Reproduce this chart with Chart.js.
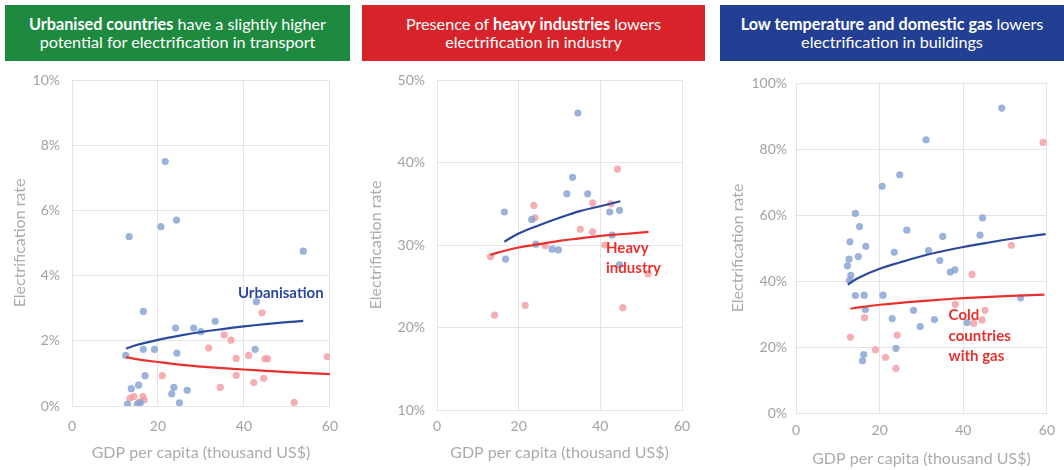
<!doctype html>
<html lang="en">
<head>
<meta charset="utf-8">
<title>Electrification rate vs GDP per capita</title>
<script src="https://cdn.jsdelivr.net/npm/chart.js"></script>
<style>
  body{margin:0;background:#fff;font-family:Lato,"Noto Sans",sans-serif}
  #wrap{position:relative;width:1064px;height:470px;overflow:hidden}
  .box{position:absolute;top:5px;height:56px;color:#fff;font-size:16.2px;line-height:18px;
       display:flex;align-items:center;justify-content:center;text-align:center}
  .box b{font-weight:700}
  .cv{position:absolute;top:0;height:470px}
</style>
</head>
<body>
<div id="wrap">
  <div class="box" style="left:5px;width:345px;background:#1d8a3f">
    <div><b>Urbanised countries</b> have a slightly higher<br>potential for electrification in transport</div></div>
  <div class="box" style="left:362px;width:343px;background:#d8232a">
    <div>Presence of <b>heavy industries</b> lowers<br>electrification in industry</div></div>
  <div class="box" style="left:720px;width:344px;background:#233f93">
    <div><b>Low temperature and domestic gas</b> lowers<br>electrification in buildings</div></div>

  <div class="cv" style="left:0;width:350px"><canvas id="c1" width="350" height="470"></canvas></div>
  <div class="cv" style="left:355px;width:350px"><canvas id="c2" width="350" height="470"></canvas></div>
  <div class="cv" style="left:710px;width:354px"><canvas id="c3" width="354" height="470"></canvas></div>
</div>

<script>
/* ---------- data (x = GDP per capita, thousand US$; y = electrification rate %) ---------- */
const xTicks=[0,20,40,60];

// transport
const transportBlue=[[21.7,7.5],[20.7,5.5],[24.3,5.7],[13.3,5.2],[53.8,4.75],[42.9,3.2],[16.6,2.9],
  [24.1,2.39],[28.3,2.39],[30.0,2.28],[33.3,2.6],[12.5,1.55],[16.6,1.74],[19.2,1.74],[24.4,1.62],
  [42.6,1.74],[17.0,0.93],[13.8,0.53],[15.5,0.64],[23.7,0.57],[23.2,0.37],[26.8,0.48],[25.0,0.1],
  [12.9,0.06],[15.2,0.06],[15.9,0.1]];
const transportRed=[[44.2,2.86],[35.4,2.18],[37.0,2.02],[31.8,1.78],[38.2,1.46],[41.1,1.55],[44.9,1.45],
  [45.5,1.45],[59.4,1.51],[21.0,0.93],[38.2,0.94],[34.5,0.57],[42.3,0.72],[44.6,0.85],[51.7,0.11],
  [13.5,0.24],[14.4,0.29],[16.5,0.29],[16.8,0.19],[15.6,0.11]];
const transportTrendBlue=[[12.6,1.76],[15,1.87],[20,2.03],[25,2.16],[30,2.27],[35,2.36],[40,2.44],[45,2.51],[50,2.57],[53.8,2.61]];
const transportTrendRed=[[12.6,1.5],[15,1.44],[20,1.35],[25,1.27],[30,1.21],[35,1.16],[40,1.12],[45,1.08],[50,1.04],[55,1.01],[60,0.98]];

// industry
const industryBlue=[[34.5,46.0],[33.2,38.2],[31.8,36.2],[36.9,36.2],[16.5,34.0],[23.2,33.1],[42.3,34.0],
  [44.7,34.2],[42.9,31.2],[16.8,28.3],[24.2,30.1],[28.2,29.5],[29.7,29.4],[44.7,27.6]];
const industryRed=[[44.2,39.2],[23.7,34.8],[24.0,33.3],[38.1,35.1],[42.6,35.0],[35.1,31.9],[38.1,31.6],
  [13.1,28.6],[14.1,21.5],[21.6,22.7],[26.5,29.9],[41.1,30.0],[45.5,22.4],[51.7,26.5]];
const industryTrendBlue=[[16.5,30.4],[20,31.4],[25,32.4],[30,33.3],[35,34.1],[40,34.7],[44.9,35.3]];
const industryTrendRed=[[13.1,28.8],[15,29.1],[20,29.7],[25,30.1],[30,30.5],[35,30.8],[40,31.1],[45,31.3],[51.8,31.6]];

// buildings
const buildingsBlue=[[49.2,92.4],[31.1,82.8],[24.8,72.2],[20.6,68.7],[14.2,60.5],[15.2,56.5],[26.5,55.4],
  [35.1,53.5],[44.6,59.1],[44.0,53.9],[12.9,51.9],[16.7,50.5],[23.5,48.7],[31.7,49.2],[12.7,46.6],
  [14.9,47.4],[12.3,44.6],[13.1,41.7],[12.8,40.2],[34.4,46.2],[36.9,42.7],[38.0,43.4],[14.2,35.6],
  [16.3,35.7],[20.8,35.7],[16.6,31.4],[28.1,31.1],[23.0,28.6],[33.1,28.3],[29.7,26.2],[40.9,27.4],
  [16.2,17.7],[15.9,15.8],[23.9,19.6],[53.7,34.9]];
const buildingsRed=[[59.1,82.0],[51.5,50.8],[42.1,42.0],[16.4,28.9],[13.0,23.0],[24.2,23.6],[19.0,19.2],
  [21.4,16.9],[23.9,13.5],[38.1,32.9],[45.2,31.1],[42.5,27.2],[44.5,28.2]];
const buildingsTrendBlue=[[12.4,38.9],[15,41.0],[20,43.7],[25,45.7],[30,47.5],[35,49.0],[40,50.3],[45,51.4],[50,52.5],[55,53.4],[59.7,54.2]];
const buildingsTrendRed=[[13.0,31.6],[15,32.0],[20,32.8],[25,33.4],[30,33.9],[35,34.4],[40,34.8],[45,35.1],[50,35.4],[59.4,35.9]];

/* ---------- styles ---------- */
const BLUE_PT='rgba(138,164,212,0.85)', RED_PT='rgba(242,155,160,0.8)';
const BLUE_LN='#2c4a9c', RED_LN='#e8312f';
const GRID='#e4e4e4', TICK='#a2a2a2', FONT='Lato, "Noto Sans", sans-serif';

/* ---------- text labels on the plot ---------- */
const labelPlugin={
  id:'labels',
  afterDatasetsDraw(chart,args,opts){
    const ctx=chart.ctx, xs=chart.scales.x, ys=chart.scales.y;
    ctx.save();
    ctx.font='bold 15px '+FONT;
    ctx.textBaseline='middle';
    ctx.textAlign='left';
    (opts.items||[]).forEach(it=>{
      ctx.fillStyle=it.color;
      it.lines.forEach((t,i)=>ctx.fillText(t,xs.getPixelForValue(it.x),ys.getPixelForValue(it.y[i])));
    });
    ctx.restore();
  }
};

function makeChart(id,cfg){
  const pts=(d,c)=>({type:'scatter',data:d.map(p=>({x:p[0],y:p[1]})),backgroundColor:c,
    borderWidth:0,pointRadius:3.6,pointHoverRadius:3.6,order:2});
  const ln=(d,c)=>({type:'line',data:d.map(p=>({x:p[0],y:p[1]})),borderColor:c,borderWidth:2.2,
    pointRadius:0,tension:0.4,fill:false,order:1});
  return new Chart(document.getElementById(id),{
    type:'scatter',
    data:{datasets:[pts(cfg.blue,BLUE_PT),pts(cfg.red,RED_PT),ln(cfg.tBlue,BLUE_LN),ln(cfg.tRed,RED_LN)]},
    options:{
      responsive:false,animation:false,
      layout:{padding:{top:cfg.top,right:cfg.right,left:0,bottom:0}},
      plugins:{legend:{display:false},tooltip:{enabled:false},labels:{items:cfg.labels}},
      scales:{
        x:{type:'linear',min:0,max:60,
           afterBuildTicks:s=>{s.ticks=xTicks.map(v=>({value:v}))},
           afterFit:s=>{s.height=cfg.xh},
           grid:{color:GRID,drawTicks:false},border:{color:GRID},
           ticks:{color:TICK,font:{family:FONT,size:14},padding:cfg.xpad,maxRotation:0},
           title:{display:true,text:'GDP per capita (thousand US$)',color:'#ababab',
                  font:{family:FONT,size:16},padding:{top:0,bottom:cfg.tpad}}},
        y:{type:'linear',min:cfg.ymin,max:cfg.ymax,
           afterBuildTicks:s=>{s.ticks=cfg.yTicks.map(v=>({value:v}))},
           afterFit:s=>{s.width=cfg.yw},
           grid:{color:GRID,drawTicks:false},border:{color:GRID},
           ticks:{color:TICK,font:{family:FONT,size:14},padding:cfg.ypad,callback:v=>v+'%'},
           title:{display:true,text:'Electrification rate',color:'#ababab',
                  font:{family:FONT,size:16},padding:{top:cfg.ytpad,bottom:0}}}
      }
    },
    plugins:[labelPlugin]
  });
}

makeChart('c1',{blue:transportBlue,red:transportRed,tBlue:transportTrendBlue,tRed:transportTrendRed,
  ymin:0,ymax:10,yTicks:[0,2,4,6,8,10],top:80,right:20,yw:72,xh:64,xpad:12,tpad:8,ypad:12,ytpad:10,
  labels:[{color:BLUE_LN,x:38.6,y:[3.47],lines:['Urbanisation']}]});

makeChart('c2',{blue:industryBlue,red:industryRed,tBlue:industryTrendBlue,tRed:industryTrendRed,
  ymin:10,ymax:50,yTicks:[10,20,30,40,50],top:80,right:23,yw:82,xh:60,xpad:8,tpad:8,ypad:12,ytpad:11,
  labels:[{color:RED_LN,x:41.4,y:[29.6,27.2],lines:['Heavy','industry']}]});

makeChart('c3',{blue:buildingsBlue,red:buildingsRed,tBlue:buildingsTrendBlue,tRed:buildingsTrendRed,
  ymin:0,ymax:100,yTicks:[0,20,40,60,80,100],top:83,right:15,yw:86,xh:57,xpad:9,tpad:2,ypad:9,ytpad:18,
  labels:[{color:RED_LN,x:36.5,y:[29.7,23.3,17.3],lines:['Cold','countries','with gas']}]});
</script>
</body>
</html>
